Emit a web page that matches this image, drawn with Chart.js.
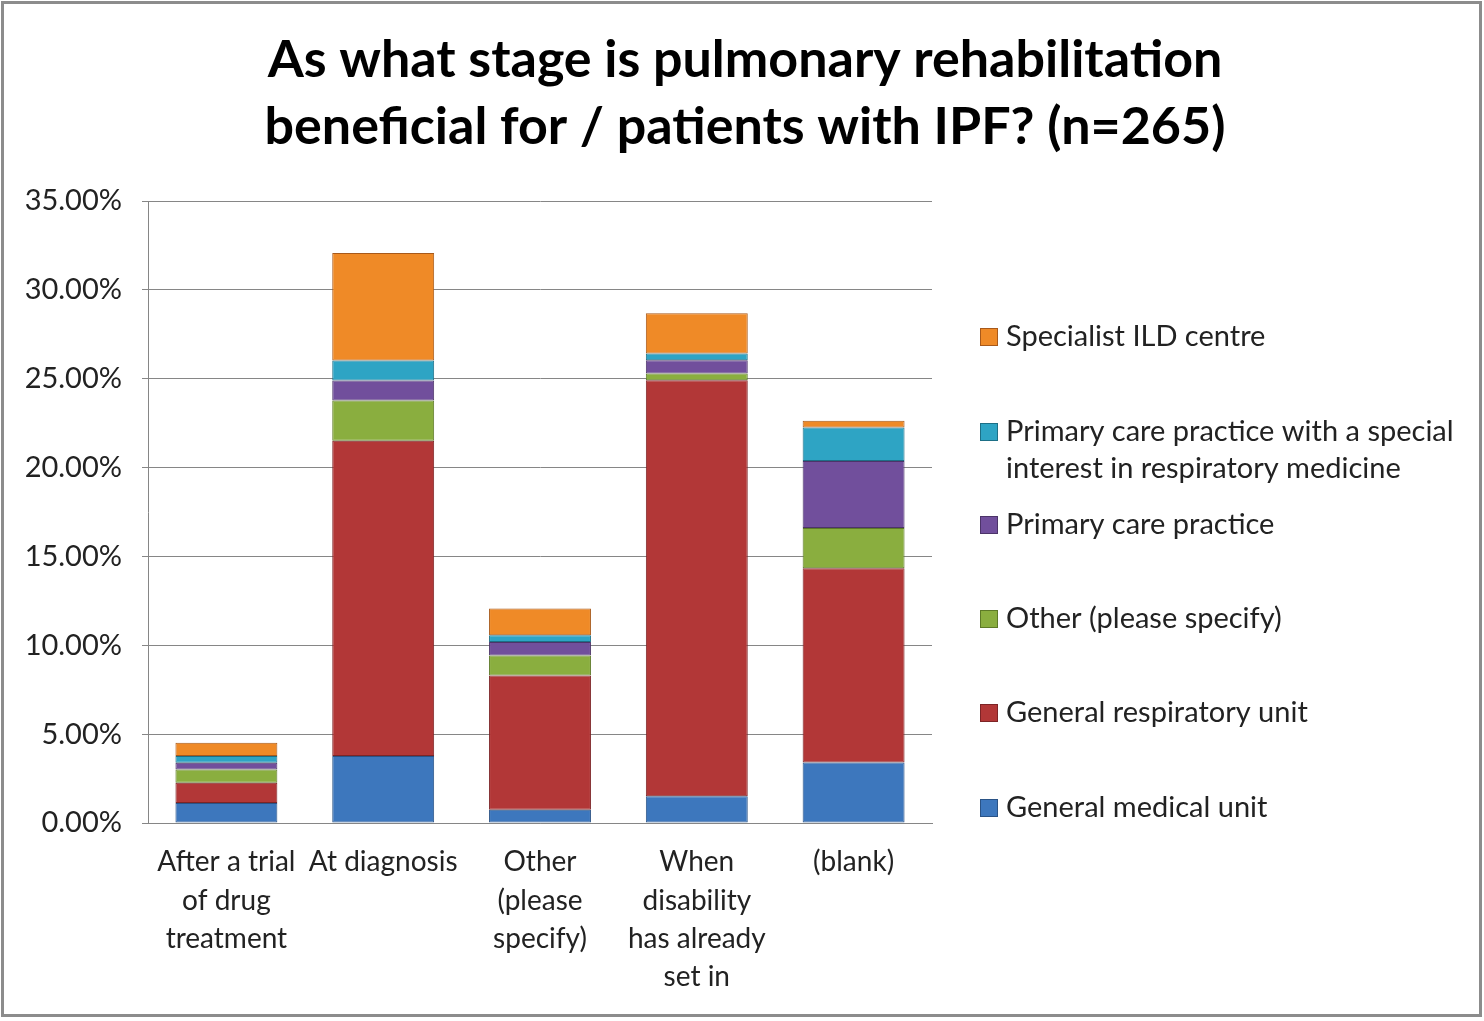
<!DOCTYPE html>
<html>
<head>
<meta charset="utf-8">
<script src="https://cdn.jsdelivr.net/npm/chart.js@4.4.0/dist/chart.umd.min.js"></script>
<style>
  body { margin: 0; background: #fff; }
  #wrap { width: 1484px; height: 1021px; }
</style>
</head>
<body>
<div id="wrap"><canvas id="stageChart" width="1484" height="1021"></canvas></div>
<script>
const ctx = document.getElementById("stageChart").getContext("2d");

// categories (x axis), multi-line like the original
const stages = [
    ["After a trial", "of drug", "treatment"],
    ["At diagnosis"],
    ["Other", "(please", "specify)"],
    ["When", "disability", "has already", "set in"],
    ["(blank)"]
];

// percentages of respondents (n=265)
const generalMedical = [1.13, 3.77, 0.75, 1.51, 3.40];
const generalRespiratory = [1.13, 17.74, 7.55, 23.40, 10.94];
const otherSpecify = [0.75, 2.26, 1.13, 0.38, 2.26];
const primaryCare = [0.38, 1.13, 0.75, 0.75, 3.77];
const primaryCareSpecial = [0.38, 1.13, 0.38, 0.38, 1.89];
const specialistILD = [0.75, 6.04, 1.51, 2.26, 0.38];

const yTicks = [0, 5, 10, 15, 20, 25, 30, 35];

const seriesNames = [
    "General medical unit",
    "General respiratory unit",
    "Other (please specify)",
    "Primary care practice",
    "Primary care practice with a special interest in respiratory medicine",
    "Specialist ILD centre"
];
const seriesData = [generalMedical, generalRespiratory, otherSpecify, primaryCare, primaryCareSpecial, specialistILD];
const fills = ["#3d77bd", "#b23737", "#8aae3f", "#714f9c", "#2ea4c4", "#ef8a27"];
const edges = ["#2a5386", "#7d2426", "#5d7a27", "#4c3469", "#1d6f86", "#a8591a"];

const FONT = "Lato, 'Open Sans', sans-serif";

// title, frame and legend are drawn by hand to match the layout
const decor = {
    id: "decor",
    beforeDraw(chart) {
        const c = chart.ctx;
        c.save();
        c.fillStyle = "#fff";
        c.fillRect(0, 0, chart.width, chart.height);
        c.strokeStyle = "#8c8c8c";
        c.lineWidth = 3;
        c.strokeRect(2.5, 2.5, 1478, 1013);
        c.restore();
    },
    afterDraw(chart) {
        const c = chart.ctx;
        c.save();
        c.fillStyle = "#000";
        c.textAlign = "center";
        c.textBaseline = "middle";
        c.font = "bold 52px " + FONT;
        c.fillText("As what stage is pulmonary rehabilitation", 745, 60);
        c.fillText("beneficial for / patients with IPF? (n=265)", 745, 127);

        // legend, reversed order like Excel
        const rows = [
            { i: 5, lines: ["Specialist ILD centre"], y: 337 },
            { i: 4, lines: ["Primary care practice with a special", "interest in respiratory medicine"], y: 432 },
            { i: 3, lines: ["Primary care practice"], y: 525 },
            { i: 2, lines: ["Other (please specify)"], y: 619 },
            { i: 1, lines: ["General respiratory unit"], y: 713 },
            { i: 0, lines: ["General medical unit"], y: 808 }
        ];
        c.textAlign = "left";
        c.font = "29px " + FONT;
        rows.forEach(r => {
            c.fillStyle = fills[r.i];
            c.fillRect(980, r.y - 9, 18, 18);
            c.strokeStyle = edges[r.i];
            c.lineWidth = 1;
            c.strokeRect(980.5, r.y - 8.5, 17, 17);
            c.fillStyle = "#222";
            r.lines.forEach((t, k) => c.fillText(t, 1006, r.y + k * 37));
        });
        c.restore();
    }
};

const chart = new Chart(ctx, {
    type: "bar",
    data: {
        labels: stages,
        datasets: seriesData.map((d, i) => ({
            label: seriesNames[i],
            data: d,
            backgroundColor: fills[i],
            borderColor: edges[i],
            borderWidth: 1,
            borderSkipped: false,
            categoryPercentage: 1,
            barPercentage: 0.65
        }))
    },
    options: {
        responsive: false,
        animation: false,
        layout: { padding: { left: 0, right: 552, top: 201, bottom: 18 } },
        plugins: {
            legend: { display: false },
            title: { display: false },
            tooltip: { enabled: false }
        },
        scales: {
            x: {
                stacked: true,
                grid: { display: false },
                border: { color: "#868686", width: 1 },
                ticks: {
                    color: "#222",
                    font: { family: FONT, size: 28, lineHeight: 1.37 },
                    maxRotation: 0,
                    autoSkip: false,
                    padding: 12
                },
                afterFit(scale) { scale.height = 180; }
            },
            y: {
                stacked: true,
                min: 0,
                max: 35,
                afterBuildTicks(scale) { scale.ticks = yTicks.map(v => ({ value: v })); },
                grid: { color: "#868686", lineWidth: 1, drawTicks: true, tickLength: 6 },
                border: { color: "#868686", width: 1 },
                ticks: {
                    color: "#222",
                    font: { family: FONT, size: 29 },
                    padding: 20,
                    callback: v => v.toFixed(2) + "%"
                },
                afterFit(scale) { scale.width = 148; }
            }
        }
    },
    plugins: [decor]
});
</script>
</body>
</html>
